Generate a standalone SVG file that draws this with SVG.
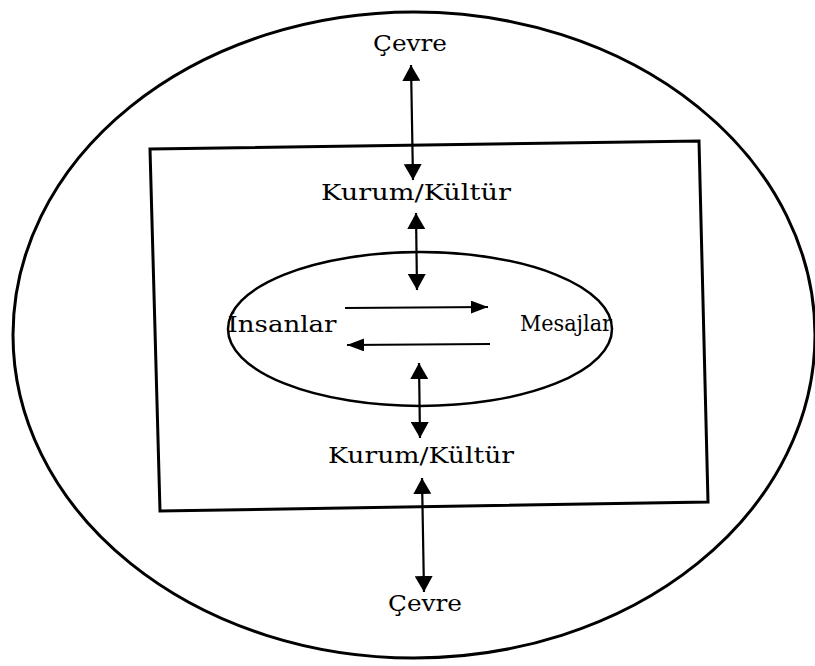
<svg xmlns="http://www.w3.org/2000/svg" width="815" height="666" viewBox="0 0 815 666">
<defs>
<style>
.shape{fill:none;stroke:#000;}
.txt{font-family:"DejaVu Serif","Liberation Serif",serif;font-size:23px;fill:#000;text-anchor:middle;}
.arr{stroke:#000;stroke-width:2.2;fill:none;}
.v{marker-start:url(#hv);marker-end:url(#hv);}
.h{marker-end:url(#hh);}
</style>
<marker id="hv" viewBox="0 0 16 18" refX="16" refY="9" markerWidth="16" markerHeight="18" markerUnits="userSpaceOnUse" orient="auto-start-reverse">
<path d="M0,0 L16,9 L0,18 Z" fill="#000"/>
</marker>
<marker id="hh" viewBox="0 0 17 13" refX="17" refY="6.5" markerWidth="17" markerHeight="13" markerUnits="userSpaceOnUse" orient="auto">
<path d="M0,0 L17,6.5 L0,13 Z" fill="#000"/>
</marker>
</defs>
<rect width="815" height="666" fill="#fff"/>
<g id="outer-env">
<ellipse class="shape" cx="414" cy="335" rx="401" ry="323" stroke-width="3"/>
</g>
<g id="institution">
<polygon class="shape" points="150,149 699,141 708,502 160,511" stroke-width="3"/>
</g>
<g id="inner">
<ellipse class="shape" cx="420" cy="329" rx="192" ry="77" stroke-width="2.5"/>
</g>
<g id="cevre-top"><text class="txt" x="410" y="51" textLength="74" lengthAdjust="spacingAndGlyphs">Çevre</text></g>
<g id="kurum-top"><text class="txt" x="416" y="200" textLength="190" lengthAdjust="spacingAndGlyphs">Kurum/Kültür</text></g>
<g id="insanlar"><text class="txt" x="282" y="332" textLength="109" lengthAdjust="spacingAndGlyphs">İnsanlar</text></g>
<g id="mesajlar"><text class="txt" x="566" y="331" textLength="92" lengthAdjust="spacingAndGlyphs">Mesajlar</text></g>
<g id="kurum-bottom"><text class="txt" x="421" y="463" textLength="186" lengthAdjust="spacingAndGlyphs">Kurum/Kültür</text></g>
<g id="cevre-bottom"><text class="txt" x="425" y="611" textLength="74" lengthAdjust="spacingAndGlyphs">Çevre</text></g>
<g id="connectors">
<line class="arr v" x1="411" y1="65" x2="413" y2="180"/>
<line class="arr v" x1="416" y1="213" x2="417" y2="290"/>
<line class="arr v" x1="419" y1="363" x2="420" y2="438"/>
<line class="arr v" x1="422" y1="478" x2="424" y2="592"/>
<line class="arr h" x1="345" y1="308" x2="488" y2="307"/>
<line class="arr h" x1="490" y1="344" x2="347" y2="345"/>
</g>
</svg>
